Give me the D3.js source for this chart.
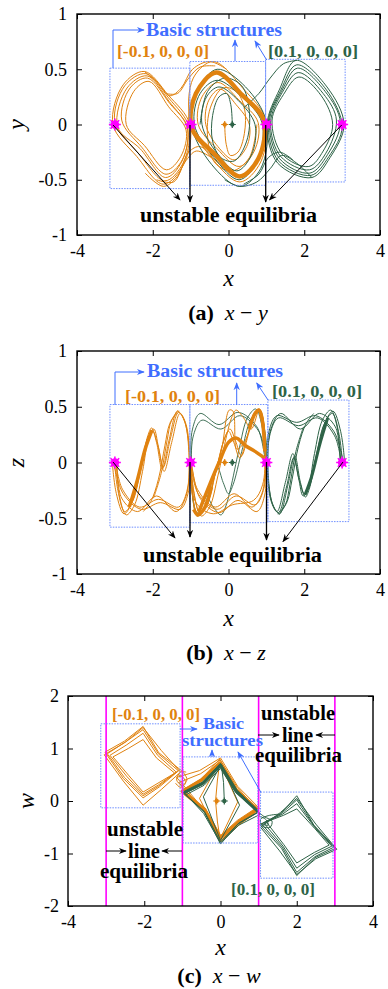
<!DOCTYPE html>
<html>
<head>
<meta charset="utf-8">
<script src="https://cdn.jsdelivr.net/npm/d3@7"></script>
<style>
  body { margin: 0; background: #fff; }
  svg { display: block; }
  text { font-family: "Liberation Serif", "Times New Roman", serif; }
</style>
</head>
<body>
<script>
// ---- axes ----
const xTicks = [-4, -2, 0, 2, 4];
const yTicksAB = [-1, -0.5, 0, 0.5, 1];
const yTicksC = [-2, -1, 0, 1, 2];
const equilibriaX = [-3, -1, 1, 3];
const initialX = [-0.1, 0.1];

// ---- (a) x-y ----
const xyOrangeLobe = [
  [[-3.05,0.00],[-2.78,0.36],[-2.22,0.48],[-1.60,0.27],[-1.02,0.00],[-1.18,-0.36],[-1.72,-0.54],[-2.42,-0.29]],
  [[-3.00,0.02],[-2.74,0.35],[-2.18,0.46],[-1.58,0.24],[-1.05,-0.02],[-1.20,-0.35],[-1.68,-0.51],[-2.38,-0.26]],
  [[-2.93,-0.02],[-2.68,0.33],[-2.15,0.44],[-1.57,0.21],[-1.08,-0.04],[-1.24,-0.34],[-1.66,-0.48],[-2.33,-0.22]],
  [[-2.70,0.00],[-2.50,0.30],[-2.10,0.39],[-1.58,0.16],[-1.12,-0.05],[-1.26,-0.29],[-1.64,-0.41],[-2.22,-0.19]],
  [[-2.82,0.04],[-2.60,0.33],[-2.14,0.42],[-1.55,0.19],[-1.09,-0.02],[-1.22,-0.32],[-1.65,-0.45],[-2.28,-0.21]]
];
const xyOrangeMid = [
  [[-1.00,0.02],[-0.93,0.42],[-0.40,0.57],[0.40,0.32],[0.97,0.05],[0.85,-0.34],[0.30,-0.52],[-0.40,-0.32]],
  [[-0.80,0.00],[-0.70,0.25],[-0.28,0.38],[0.28,0.22],[0.78,0.02],[0.68,-0.24],[0.28,-0.38],[-0.30,-0.22]],
  [[-0.60,0.00],[-0.52,0.22],[-0.22,0.32],[0.20,0.18],[0.55,0.00],[0.48,-0.20],[0.15,-0.32],[-0.28,-0.20]]
];
const xyOrangeThick = [[-0.97,-0.03],[-0.86,0.28],[-0.32,0.47],[0.35,0.27],[0.93,0.04],[0.80,-0.30],[0.30,-0.47],[-0.36,-0.27]];
const xyOrangeLinks = [
  [[-2.22,0.48],[-1.85,0.37],[-1.55,0.26],[-1.25,0.33],[-0.95,0.50],[-0.50,0.57],[-0.05,0.50]],
  [[-1.65,0.28],[-1.35,0.28],[-1.05,0.42],[-0.75,0.52],[-0.35,0.53]],
  [[0.20,-0.48],[-0.30,-0.34],[-0.75,-0.20],[-1.05,-0.25],[-1.35,-0.47],[-1.72,-0.56],[-2.20,-0.44]],
  [[-0.45,-0.30],[-0.85,-0.24],[-1.15,-0.34],[-1.45,-0.52],[-1.90,-0.50]]
];
const xyOrangeSpiral = [[-0.10,0.00],[-0.06,-0.18],[0.05,-0.28],[0.25,-0.25],[0.42,-0.08],[0.42,0.15],[0.20,0.30],[-0.15,0.33],[-0.48,0.15],[-0.55,-0.12],[-0.35,-0.35],[0.10,-0.42],[0.55,-0.30],[0.75,0.00]];
const xyGreenLobe = [
  [[3.05,0.00],[2.68,-0.30],[2.20,-0.48],[1.30,-0.35],[1.02,0.00],[1.35,0.32],[1.78,0.58],[2.60,0.34]],
  [[3.00,-0.02],[2.65,-0.29],[2.18,-0.46],[1.32,-0.33],[1.05,0.02],[1.38,0.31],[1.80,0.54],[2.57,0.32]],
  [[2.95,0.02],[2.62,-0.27],[2.15,-0.44],[1.35,-0.31],[1.08,0.03],[1.40,0.30],[1.82,0.51],[2.55,0.30]],
  [[2.75,0.00],[2.50,-0.24],[2.12,-0.38],[1.42,-0.27],[1.15,0.04],[1.45,0.27],[1.86,0.43],[2.45,0.26]],
  [[2.85,0.04],[2.57,-0.26],[2.14,-0.41],[1.38,-0.29],[1.11,0.02],[1.42,0.29],[1.84,0.47],[2.50,0.28]]
];
const xyGreenMid = [
  [[-0.98,0.00],[-0.80,0.32],[-0.30,0.50],[0.45,0.34],[1.00,0.02],[0.85,-0.40],[0.30,-0.56],[-0.45,-0.36]],
  [[-0.90,0.00],[-0.75,0.28],[-0.30,0.40],[0.35,0.25],[0.88,0.02],[0.78,-0.32],[0.28,-0.50],[-0.38,-0.30]],
  [[-0.70,0.00],[-0.58,0.25],[-0.25,0.34],[0.25,0.22],[0.70,0.00],[0.60,-0.28],[0.22,-0.42],[-0.30,-0.26]]
];
const xyGreenLinks = [
  [[0.40,0.15],[0.80,0.28],[1.10,0.42],[1.45,0.55],[1.80,0.58]],
  [[2.20,-0.48],[1.80,-0.35],[1.40,-0.28],[1.10,-0.40],[0.75,-0.52],[0.30,-0.56],[-0.10,-0.50]],
  [[1.70,-0.32],[1.35,-0.25],[1.05,-0.30],[0.80,-0.45],[0.40,-0.54]]
];
const xyGreenSpiral = [[0.10,0.00],[0.06,0.18],[-0.05,0.28],[-0.25,0.25],[-0.42,0.08],[-0.42,-0.15],[-0.20,-0.30],[0.15,-0.33],[0.48,-0.15],[0.55,0.12],[0.35,0.35],[-0.10,0.42],[-0.55,0.30],[-0.75,0.00]];

// ---- (b) x-z ----
const xzOrangeLobe = [
  [[-3.05,0.00],[-2.96,-0.28],[-2.76,-0.46],[-2.55,-0.36],[-2.32,-0.05],[-2.13,0.24],[-2.03,0.31],[-1.90,0.18],[-1.75,-0.06],[-1.57,0.20],[-1.35,0.46],[-1.17,0.38],[-1.02,0.02],[-1.07,-0.28],[-1.28,-0.42],[-1.80,-0.36],[-2.30,-0.42],[-2.78,-0.28]],
  [[-3.00,0.02],[-2.92,-0.25],[-2.74,-0.44],[-2.52,-0.34],[-2.30,-0.03],[-2.12,0.23],[-2.00,0.28],[-1.87,0.16],[-1.72,-0.04],[-1.53,0.22],[-1.32,0.45],[-1.15,0.36],[-1.04,0.00],[-1.10,-0.26],[-1.32,-0.40],[-1.85,-0.33],[-2.35,-0.40],[-2.80,-0.24]],
  [[-2.95,-0.02],[-2.88,-0.30],[-2.70,-0.47],[-2.48,-0.38],[-2.27,-0.08],[-2.08,0.26],[-1.97,0.30],[-1.85,0.14],[-1.70,-0.08],[-1.50,0.18],[-1.28,0.44],[-1.12,0.34],[-1.03,0.04],[-1.12,-0.30],[-1.38,-0.44],[-1.90,-0.30],[-2.40,-0.44],[-2.82,-0.32]]
];
const xzOrangeArcs = [
  [[-1.33,0.47],[-1.55,0.35],[-1.68,0.15],[-1.85,-0.15],[-2.05,-0.35],[-2.25,-0.44]],
  [[-1.30,0.46],[-1.50,0.38],[-1.62,0.20],[-1.78,-0.10],[-1.98,-0.32]]
];
const xzOrangeMid = [
  [[-1.02,0.00],[-0.96,-0.28],[-0.80,-0.47],[-0.58,-0.38],[-0.35,-0.10],[-0.12,0.20],[0.00,0.28],[0.14,0.18],[0.30,0.04],[0.50,0.24],[0.72,0.46],[0.86,0.44],[0.98,0.05],[0.92,-0.25],[0.70,-0.38],[0.20,-0.30],[-0.30,-0.42],[-0.80,-0.28]],
  [[-1.00,0.02],[-0.92,-0.25],[-0.76,-0.45],[-0.55,-0.36],[-0.32,-0.06],[-0.10,0.22],[0.04,0.30],[0.18,0.20],[0.34,0.06],[0.55,0.28],[0.78,0.48],[0.90,0.40],[0.97,0.02],[0.88,-0.28],[0.62,-0.40],[0.15,-0.28],[-0.35,-0.40],[-0.82,-0.24]],
  [[-0.98,-0.02],[-0.90,-0.30],[-0.72,-0.48],[-0.50,-0.40],[-0.28,-0.12],[-0.05,0.24],[0.08,0.40],[0.20,0.47],[0.40,0.40],[0.60,0.30],[0.82,0.48],[0.92,0.36],[0.99,0.00],[0.95,-0.30],[0.75,-0.44],[0.25,-0.34],[-0.25,-0.45],[-0.75,-0.32]],
  [[-1.01,0.00],[-0.94,-0.32],[-0.84,-0.48],[-0.62,-0.42],[-0.42,-0.18],[-0.18,0.12],[0.02,0.47],[0.12,0.46],[0.22,0.12],[0.45,0.20],[0.68,0.44],[0.84,0.47],[0.96,0.10],[0.90,-0.20],[0.66,-0.34],[0.10,-0.38],[-0.40,-0.46],[-0.86,-0.36]]
];
const xzOrangeThick = [
  [[-2.62,-0.40],[-2.40,-0.15],[-2.20,0.12],[-2.02,0.29]],
  [[-0.78,-0.44],[-0.50,-0.20],[-0.25,0.00],[0.00,0.18],[0.20,0.22],[0.45,0.15],[0.70,0.10],[0.95,0.04]],
  [[0.55,0.30],[0.70,0.44],[0.80,0.47],[0.88,0.40],[0.96,0.10]],
  [[-0.92,-0.42],[-0.80,-0.47],[-0.62,-0.40],[-0.45,-0.22]]
];
const xzGreenLobe = [
  [[3.05,0.00],[2.96,0.28],[2.76,0.46],[2.55,0.36],[2.32,0.05],[2.13,-0.24],[2.03,-0.31],[1.90,-0.18],[1.75,0.06],[1.57,-0.20],[1.35,-0.46],[1.17,-0.38],[1.02,-0.02],[1.07,0.28],[1.28,0.42],[1.80,0.36],[2.30,0.42],[2.78,0.28]],
  [[3.00,-0.02],[2.92,0.25],[2.74,0.44],[2.52,0.34],[2.30,0.03],[2.12,-0.23],[2.00,-0.28],[1.87,-0.16],[1.72,0.04],[1.53,-0.22],[1.32,-0.45],[1.15,-0.36],[1.04,0.00],[1.10,0.26],[1.32,0.40],[1.85,0.33],[2.35,0.40],[2.80,0.24]],
  [[2.95,0.02],[2.88,0.30],[2.70,0.47],[2.48,0.38],[2.27,0.08],[2.08,-0.26],[1.97,-0.30],[1.85,-0.14],[1.70,0.08],[1.50,-0.18],[1.28,-0.44],[1.12,-0.34],[1.03,-0.04],[1.12,0.30],[1.38,0.44],[1.90,0.30],[2.40,0.44],[2.82,0.32]]
];
const xzGreenArcs = [
  [[1.33,-0.47],[1.55,-0.35],[1.68,-0.15],[1.85,0.15],[2.05,0.35],[2.25,0.44]],
  [[1.30,-0.46],[1.50,-0.38],[1.62,-0.20],[1.78,0.10],[1.98,0.32]]
];
const xzGreenMid = [
  [[1.02,0.00],[0.96,0.28],[0.80,0.47],[0.58,0.38],[0.35,0.10],[0.12,-0.20],[0.00,-0.28],[-0.14,-0.18],[-0.30,-0.04],[-0.50,-0.24],[-0.72,-0.46],[-0.86,-0.44],[-0.98,-0.05],[-0.92,0.25],[-0.70,0.38],[-0.20,0.30],[0.30,0.42],[0.80,0.28]],
  [[0.98,0.02],[0.90,0.30],[0.72,0.48],[0.50,0.40],[0.28,0.12],[0.05,-0.24],[-0.08,-0.40],[-0.20,-0.47],[-0.40,-0.40],[-0.60,-0.30],[-0.82,-0.48],[-0.92,-0.36],[-0.99,0.00],[-0.95,0.30],[-0.75,0.44],[-0.25,0.34],[0.25,0.45],[0.75,0.32]]
];
const xzGreenThick = [
  [[2.62,0.40],[2.40,0.15],[2.20,-0.12],[2.02,-0.29]]
];

// ---- (c) x-w ----
const xwOrangeLobe = [
  [[-3.03,0.93],[-2.52,1.14],[-2.03,1.42],[-1.62,0.92],[-1.06,0.60],[-1.60,0.27],[-2.03,0.06],[-2.55,0.43]],
  [[-2.97,0.90],[-2.50,1.12],[-2.03,1.36],[-1.63,0.90],[-1.11,0.58],[-1.61,0.29],[-2.03,0.10],[-2.52,0.45]],
  [[-2.90,0.87],[-2.46,1.07],[-2.03,1.29],[-1.65,0.87],[-1.16,0.55],[-1.62,0.31],[-2.03,0.13],[-2.46,0.47]],
  [[-2.82,0.84],[-2.42,1.00],[-2.03,1.17],[-1.68,0.82],[-1.20,0.53],[-1.64,0.34],[-2.03,0.17],[-2.40,0.48]],
  [[-3.05,0.88],[-2.55,0.38],[-2.03,-0.08],[-1.55,0.22],[-1.05,0.55],[-1.55,0.96],[-2.03,1.40],[-2.50,1.12]]
];
const xwOrangeMid = [
  [[-1.02,0.20],[-0.50,0.42],[-0.02,0.80],[0.42,0.24],[0.98,-0.18],[0.48,-0.42],[0.00,-0.74],[-0.44,-0.18]],
  [[-0.98,0.18],[-0.48,0.40],[-0.02,0.74],[0.40,0.22],[0.95,-0.16],[0.46,-0.40],[0.00,-0.70],[-0.42,-0.16]],
  [[-0.94,0.16],[-0.46,0.36],[-0.02,0.68],[0.38,0.20],[0.92,-0.14],[0.44,-0.37],[0.00,-0.66],[-0.40,-0.14]],
  [[-1.15,0.45],[-0.55,0.58],[0.00,0.82],[0.45,0.28],[1.02,-0.14],[0.50,-0.45],[0.00,-0.78],[-0.45,-0.15]],
  [[-1.10,0.35],[-0.52,0.52],[-0.01,0.78],[0.44,0.26],[1.00,-0.20],[0.50,-0.44],[0.00,-0.76],[-0.44,-0.17]]
];
const xwOrangeThick = [[-1.00,0.18],[-0.50,0.40],[-0.02,0.72],[0.40,0.22],[0.96,-0.16],[0.47,-0.40],[0.00,-0.70],[-0.42,-0.16]];
const xwOrangeSpokes = [
  [[-0.13,0.00],[-0.08,0.40],[-0.02,0.74]],
  [[-0.13,0.00],[-0.08,-0.40],[-0.01,-0.72]],
  [[-0.02,0.74],[-0.55,0.05],[-0.01,-0.72],[0.45,-0.02],[-0.02,0.74]]
];
const xwOrangeLinks = [
  [[-1.06,0.60],[-0.95,0.52],[-0.88,0.40],[-1.00,0.30],[-1.15,0.40],[-1.05,0.55],[-0.90,0.55]],
  [[-1.12,0.50],[-0.98,0.45],[-0.92,0.34],[-1.05,0.26],[-1.18,0.34]]
];
const xwGreenLobe = [
  [[1.03,-0.45],[1.58,-0.24],[2.00,0.10],[2.45,-0.46],[3.02,-0.90],[2.48,-1.08],[2.00,-1.42],[1.60,-0.90]],
  [[1.08,-0.44],[1.60,-0.24],[2.00,0.02],[2.46,-0.48],[2.97,-0.88],[2.48,-1.06],[2.00,-1.36],[1.62,-0.88]],
  [[1.14,-0.42],[1.63,-0.25],[2.00,-0.05],[2.47,-0.50],[2.92,-0.86],[2.47,-1.02],[2.00,-1.28],[1.64,-0.86]],
  [[1.20,-0.40],[1.66,-0.27],[2.00,-0.15],[2.48,-0.53],[2.85,-0.84],[2.46,-0.98],[2.00,-1.18],[1.66,-0.83]],
  [[1.05,-0.50],[1.55,-0.95],[2.00,-1.40],[2.50,-1.10],[3.05,-0.92],[2.50,-0.44],[2.00,0.05],[1.57,-0.22]]
];
const xwGreenMid = [
  [[-0.98,0.16],[-0.46,0.36],[0.00,0.72],[0.44,0.20],[1.00,-0.20],[0.48,-0.42],[0.00,-0.78],[-0.42,-0.20]],
  [[-0.95,0.14],[-0.45,0.32],[0.00,0.66],[0.42,0.18],[0.98,-0.22],[0.46,-0.44],[0.00,-0.82],[-0.42,-0.22]],
  [[-0.90,0.12],[-0.43,0.30],[0.00,0.62],[0.40,0.16],[1.05,-0.25],[0.48,-0.46],[0.00,-0.80],[-0.44,-0.24]]
];
const xwGreenThick = [[-0.96,0.16],[-0.46,0.34],[0.00,0.68],[0.42,0.18],[0.98,-0.20]];
const xwGreenSpokes = [
  [[0.10,0.00],[0.08,0.35],[0.02,0.70]],
  [[0.02,0.70],[-0.45,0.08],[0.00,-0.75],[0.50,-0.08],[0.02,0.70]]
];
const xwGreenLinks = [
  [[0.98,-0.20],[1.15,-0.30],[1.35,-0.38],[1.30,-0.50],[1.10,-0.48],[1.05,-0.35],[1.25,-0.28],[1.55,-0.25]],
  [[1.00,-0.28],[1.20,-0.36],[1.25,-0.46],[1.08,-0.44]]
];

// ---- styles ----
const ORANGE = '#E0820F', GREEN = '#2E6347', MAGENTA = '#FF00FF';
const BLUE = '#3F6EFF', BOXBLUE = '#6E8EFF';

const svg = d3.select('body').append('svg').attr('width', 388).attr('height', 989);
const defs = svg.append('defs');

function arrowHead(id, color) {
  defs.append('marker').attr('id', id)
    .attr('viewBox', '0 0 10 10').attr('refX', 9).attr('refY', 5)
    .attr('markerWidth', 8).attr('markerHeight', 8).attr('orient', 'auto')
    .attr('markerUnits', 'userSpaceOnUse')
    .append('path').attr('d', 'M0,1 L10,5 L0,9 L3,5 Z').attr('fill', color);
}
arrowHead('headK', '#000');
arrowHead('headB', BLUE);

function setupPanel(box, yDomain, yTicks, pad) {
  const x = d3.scaleLinear().domain([-4, 4]).range([box.l, box.r]);
  const y = d3.scaleLinear().domain(yDomain).range([box.b, box.t]);
  const g = svg.append('g');
  const id = 'clip' + box.t;
  defs.append('clipPath').attr('id', id).append('rect')
    .attr('x', box.l).attr('y', box.t).attr('width', box.r - box.l).attr('height', box.b - box.t);
  const plot = g.append('g').attr('clip-path', `url(#${id})`);
  const fmt = d => String(d);
  const none = () => '';
  const style = sel => {
    sel.select('.domain').remove();
    sel.selectAll('text').attr('font-size', 18).attr('font-family', 'Liberation Serif').attr('fill', '#000');
  };
  g.append('g').attr('transform', `translate(0,${box.b})`)
    .call(d3.axisBottom(x).tickValues(xTicks).tickFormat(fmt).tickSize(-5).tickPadding(9)).call(style);
  g.append('g').attr('transform', `translate(0,${box.t})`)
    .call(d3.axisTop(x).tickValues(xTicks).tickFormat(none).tickSize(-5)).call(style);
  g.append('g').attr('transform', `translate(${box.l},0)`)
    .call(d3.axisLeft(y).tickValues(yTicks).tickFormat(fmt).tickSize(-5).tickPadding(pad)).call(style);
  g.append('g').attr('transform', `translate(${box.r},0)`)
    .call(d3.axisRight(y).tickValues(yTicks).tickFormat(none).tickSize(-5)).call(style);
  g.append('rect').attr('x', box.l).attr('y', box.t)
    .attr('width', box.r - box.l).attr('height', box.b - box.t)
    .attr('fill', 'none').attr('stroke', '#000').attr('stroke-width', 1.4);
  return { x, y, g, plot, box };
}

function paths(p, data, color, width, curve) {
  const line = d3.line().x(d => p.x(d[0])).y(d => p.y(d[1])).curve(curve);
  p.plot.append('g').selectAll('path').data(data).join('path')
    .attr('d', line).attr('fill', 'none')
    .attr('stroke', color).attr('stroke-width', width)
    .attr('stroke-linejoin', 'round');
}
const smoothClosed = d3.curveCatmullRomClosed.alpha(0.5);
const smoothOpen = d3.curveCatmullRom.alpha(0.5);
const sharpClosed = d3.curveLinearClosed;
const sharpOpen = d3.curveLinear;

function startMarks(p) {
  initialX.forEach((v, i) => {
    const c = i === 0 ? ORANGE : GREEN;
    const cx = p.x(v), cy = p.y(0);
    p.plot.append('circle').attr('cx', cx).attr('cy', cy).attr('r', 2.2).attr('fill', c);
    p.plot.append('path').attr('d', `M${cx - 3.5},${cy}H${cx + 3.5}M${cx},${cy - 3.5}V${cy + 3.5}`)
      .attr('stroke', c).attr('stroke-width', 1.2);
  });
}

function equilibriumMarks(p) {
  equilibriaX.forEach(v => {
    const cx = p.x(v), cy = p.y(0);
    p.g.append('circle').attr('cx', cx).attr('cy', cy).attr('r', 4.3).attr('fill', MAGENTA);
    p.g.append('path')
      .attr('d', `M${cx - 6},${cy}H${cx + 6}M${cx},${cy - 6}V${cy + 6}M${cx - 4.3},${cy - 4.3}L${cx + 4.3},${cy + 4.3}M${cx - 4.3},${cy + 4.3}L${cx + 4.3},${cy - 4.3}`)
      .attr('stroke', MAGENTA).attr('stroke-width', 1.6);
  });
}

function dottedBox(p, x0, x1, y0, y1) {
  p.g.append('rect').attr('x', p.x(x0)).attr('y', p.y(y1))
    .attr('width', p.x(x1) - p.x(x0)).attr('height', p.y(y0) - p.y(y1))
    .attr('fill', 'none').attr('stroke', BOXBLUE).attr('stroke-width', 1)
    .attr('stroke-dasharray', '1.5,1.2');
}

function arrow(p, pts, color, head, w) {
  p.g.append('path').attr('d', d3.line()(pts)).attr('fill', 'none')
    .attr('stroke', color).attr('stroke-width', w || 1).attr('marker-end', `url(#${head})`);
}

function label(p, txt, x, y, size, len, color) {
  p.g.append('text').attr('x', x).attr('y', y).attr('font-size', size)
    .attr('font-weight', 'bold').attr('fill', color)
    .attr('textLength', len).attr('lengthAdjust', 'spacingAndGlyphs').text(txt);
}

function axisTitles(p, xl, yl, xBase, yCx) {
  p.g.append('text').attr('x', (p.box.l + p.box.r) / 2).attr('y', xBase)
    .attr('text-anchor', 'middle').attr('font-size', 24).attr('font-style', 'italic').text(xl);
  p.g.append('text').attr('transform', `translate(${yCx},${(p.box.t + p.box.b) / 2}) rotate(-90)`)
    .attr('text-anchor', 'middle').attr('dy', '0.3em')
    .attr('font-size', 24).attr('font-style', 'italic').text(yl);
}

function caption(tag, v, cx, base) {
  const t = svg.append('text').attr('x', cx).attr('y', base).attr('text-anchor', 'middle').attr('font-size', 22);
  t.append('tspan').attr('font-weight', 'bold').text(tag);
  t.append('tspan').attr('font-style', 'italic').text('\u2002x');
  t.append('tspan').text(' \u2212 ');
  t.append('tspan').attr('font-style', 'italic').text(v);
}

// ================= (a) =================
const pa = setupPanel({ l: 77, r: 380, t: 14, b: 235 }, [-1, 1], yTicksAB, 10);
paths(pa, xyOrangeLobe, ORANGE, 1, smoothClosed);
paths(pa, xyOrangeMid, ORANGE, 1, smoothClosed);
paths(pa, xyOrangeLinks, ORANGE, 1, smoothOpen);
paths(pa, [xyOrangeSpiral], ORANGE, 1, smoothOpen);
paths(pa, xyGreenLobe, GREEN, 1, smoothClosed);
paths(pa, xyGreenMid, GREEN, 1, smoothClosed);
paths(pa, xyGreenLinks, GREEN, 1, smoothOpen);
paths(pa, [xyGreenSpiral], GREEN, 1, smoothOpen);
paths(pa, [xyOrangeThick], ORANGE, 4.5, smoothClosed);
startMarks(pa);
dottedBox(pa, -3.13, -1.02, -0.58, 0.51);
dottedBox(pa, -1.02, 0.98, -0.55, 0.57);
dottedBox(pa, 0.98, 3.08, -0.52, 0.59);
equilibriumMarks(pa);
arrow(pa, [[113, 125], [180, 200]], '#000', 'headK');
arrow(pa, [[190, 125], [190, 202]], '#000', 'headK', 1.3);
arrow(pa, [[265.7, 125], [265.7, 202]], '#000', 'headK', 1.3);
arrow(pa, [[341.7, 125], [269.5, 200]], '#000', 'headK');
arrow(pa, [[113, 68], [113, 30], [144, 30]], BLUE, 'headB');
arrow(pa, [[235, 61], [235, 40]], BLUE, 'headB');
arrow(pa, [[266.7, 60], [255, 41]], BLUE, 'headB');
label(pa, 'Basic structures', 146, 36, 18, 136, BLUE);
label(pa, '[-0.1, 0, 0, 0]', 117, 57, 17, 92, ORANGE);
label(pa, '[0.1, 0, 0, 0]', 268, 57, 17, 90, GREEN);
label(pa, 'unstable equilibria', 140, 222, 20, 177, '#000');
axisTitles(pa, 'x', 'y', 286, 17);
caption('(a)', 'y', 228, 320);

// ================= (b) =================
const pb = setupPanel({ l: 77, r: 380, t: 351, b: 574 }, [-1, 1], yTicksAB, 10);
paths(pb, xzGreenMid, GREEN, 0.9, smoothClosed);
paths(pb, xzOrangeLobe, ORANGE, 1, smoothClosed);
paths(pb, xzOrangeArcs, ORANGE, 1, smoothOpen);
paths(pb, xzOrangeMid, ORANGE, 1, smoothClosed);
paths(pb, xzGreenLobe, GREEN, 1, smoothClosed);
paths(pb, xzGreenArcs, GREEN, 1, smoothOpen);
paths(pb, xzGreenThick, GREEN, 3, smoothOpen);
paths(pb, xzOrangeThick, ORANGE, 3.5, smoothOpen);
startMarks(pb);
dottedBox(pb, -3.13, -1.02, -0.58, 0.52);
dottedBox(pb, -1.02, 1.04, -0.54, 0.52);
dottedBox(pb, 1.04, 3.18, -0.53, 0.56);
equilibriumMarks(pb);
arrow(pb, [[113, 462], [175, 538]], '#000', 'headK');
arrow(pb, [[190, 462], [190, 537]], '#000', 'headK', 1.3);
arrow(pb, [[266.5, 462], [266.5, 540]], '#000', 'headK', 1.3);
arrow(pb, [[343, 462], [283, 541.5]], '#000', 'headK');
arrow(pb, [[115, 405], [115, 372], [144, 372]], BLUE, 'headB');
arrow(pb, [[236.7, 405], [236.7, 383]], BLUE, 'headB');
arrow(pb, [[268, 400], [256.7, 383]], BLUE, 'headB');
label(pb, 'Basic structures', 147, 377, 18, 136, BLUE);
label(pb, '[-0.1, 0, 0, 0]', 125, 402, 17, 95, ORANGE);
label(pb, '[0.1, 0, 0, 0]', 272, 397, 17, 90, GREEN);
label(pb, 'unstable equilibria', 143, 562, 20, 179, '#000');
axisTitles(pb, 'x', 'z', 626, 17);
caption('(b)', 'z', 226, 660);

// ================= (c) =================
const pc = setupPanel({ l: 68, r: 373, t: 696, b: 906 }, [-2, 2], yTicksC, 9);
paths(pc, xwOrangeLobe, ORANGE, 1, sharpClosed);
paths(pc, xwOrangeMid, ORANGE, 1, sharpClosed);
paths(pc, xwOrangeLinks, ORANGE, 1, smoothOpen);
paths(pc, xwOrangeSpokes, ORANGE, 1, sharpOpen);
paths(pc, [xwOrangeThick], ORANGE, 3.5, sharpClosed);
paths(pc, xwGreenLobe, GREEN, 1, sharpClosed);
paths(pc, xwGreenMid, GREEN, 1, sharpClosed);
paths(pc, xwGreenLinks, GREEN, 1, smoothOpen);
paths(pc, xwGreenSpokes, GREEN, 1, sharpOpen);
paths(pc, [xwGreenThick], GREEN, 3, sharpOpen);
startMarks(pc);
pc.plot.append('g').selectAll('line').data(equilibriaX).join('line')
  .attr('x1', d => pc.x(d)).attr('x2', d => pc.x(d))
  .attr('y1', pc.box.t).attr('y2', pc.box.b)
  .attr('stroke', MAGENTA).attr('stroke-width', 1.6);
dottedBox(pc, -3.14, -1.06, -0.13, 1.47);
dottedBox(pc, -0.98, 0.98, -0.80, 0.84);
dottedBox(pc, 1.05, 2.95, -1.47, 0.17);
arrow(pc, [[180, 729], [197, 729]], BLUE, 'headB');
arrow(pc, [[212, 757], [212, 750]], BLUE, 'headB');
arrow(pc, [[260.7, 792], [238, 752]], BLUE, 'headB');
arrow(pc, [[258, 735], [279, 735]], '#000', 'headK');
arrow(pc, [[335, 735], [316, 735]], '#000', 'headK');
arrow(pc, [[106, 851], [126, 851]], '#000', 'headK');
arrow(pc, [[182, 851], [162, 851]], '#000', 'headK');
label(pc, '[-0.1, 0, 0, 0]', 112, 720, 17, 88, ORANGE);
label(pc, 'Basic', 203, 729, 16, 41, BLUE);
label(pc, 'structures', 182, 746, 16, 81, BLUE);
label(pc, 'unstable', 261, 720, 20, 74, '#000');
label(pc, 'line', 282, 742, 20, 31, '#000');
label(pc, 'equilibria', 255, 762, 20, 87, '#000');
label(pc, 'unstable', 107, 836, 20, 76, '#000');
label(pc, 'line', 128, 858, 20, 32, '#000');
label(pc, 'equilibria', 100, 878, 20, 88, '#000');
label(pc, '[0.1, 0, 0, 0]', 231, 895, 17, 84, GREEN);
axisTitles(pc, 'x', 'w', 955, 27);
caption('(c)', 'w', 219, 983);
</script>
</body>
</html>
